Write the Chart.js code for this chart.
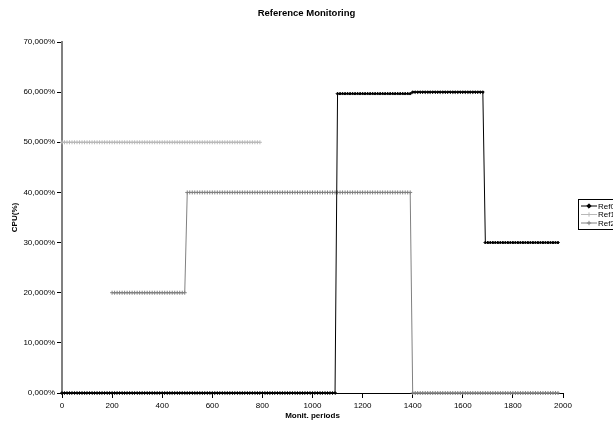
<!DOCTYPE html>
<html>
<head>
<meta charset="utf-8">
<title>Reference Monitoring</title>
<script src="https://cdn.jsdelivr.net/npm/chart.js@4/dist/chart.umd.min.js"></script>
<style>
  html, body { margin: 0; padding: 0; background: #fff; overflow: hidden; }
  #wrap { width: 613px; height: 428px; }
</style>
</head>
<body>
<div id="wrap"><canvas id="cpuChart" width="613" height="428"></canvas></div>
<script>
// Monitoring periods (x axis), one sample every 10 periods
const periods = [
    0, 10, 20, 30, 40, 50, 60, 70, 80, 90,
    100, 110, 120, 130, 140, 150, 160, 170, 180, 190,
    200, 210, 220, 230, 240, 250, 260, 270, 280, 290,
    300, 310, 320, 330, 340, 350, 360, 370, 380, 390,
    400, 410, 420, 430, 440, 450, 460, 470, 480, 490,
    500, 510, 520, 530, 540, 550, 560, 570, 580, 590,
    600, 610, 620, 630, 640, 650, 660, 670, 680, 690,
    700, 710, 720, 730, 740, 750, 760, 770, 780, 790,
    800, 810, 820, 830, 840, 850, 860, 870, 880, 890,
    900, 910, 920, 930, 940, 950, 960, 970, 980, 990,
    1000, 1010, 1020, 1030, 1040, 1050, 1060, 1070, 1080, 1090,
    1100, 1110, 1120, 1130, 1140, 1150, 1160, 1170, 1180, 1190,
    1200, 1210, 1220, 1230, 1240, 1250, 1260, 1270, 1280, 1290,
    1300, 1310, 1320, 1330, 1340, 1350, 1360, 1370, 1380, 1390,
    1400, 1410, 1420, 1430, 1440, 1450, 1460, 1470, 1480, 1490,
    1500, 1510, 1520, 1530, 1540, 1550, 1560, 1570, 1580, 1590,
    1600, 1610, 1620, 1630, 1640, 1650, 1660, 1670, 1680, 1690,
    1700, 1710, 1720, 1730, 1740, 1750, 1760, 1770, 1780, 1790,
    1800, 1810, 1820, 1830, 1840, 1850, 1860, 1870, 1880, 1890,
    1900, 1910, 1920, 1930, 1940, 1950, 1960, 1970, 1980
];

// CPU (%) per series, same order as periods
const ref0 = [
    0, 0, 0, 0, 0, 0, 0, 0, 0, 0,
    0, 0, 0, 0, 0, 0, 0, 0, 0, 0,
    0, 0, 0, 0, 0, 0, 0, 0, 0, 0,
    0, 0, 0, 0, 0, 0, 0, 0, 0, 0,
    0, 0, 0, 0, 0, 0, 0, 0, 0, 0,
    0, 0, 0, 0, 0, 0, 0, 0, 0, 0,
    0, 0, 0, 0, 0, 0, 0, 0, 0, 0,
    0, 0, 0, 0, 0, 0, 0, 0, 0, 0,
    0, 0, 0, 0, 0, 0, 0, 0, 0, 0,
    0, 0, 0, 0, 0, 0, 0, 0, 0, 0,
    0, 0, 0, 0, 0, 0, 0, 0, 0, 0,
    59.7, 59.7, 59.7, 59.7, 59.7, 59.7, 59.7, 59.7, 59.7, 59.7,
    59.7, 59.7, 59.7, 59.7, 59.7, 59.7, 59.7, 59.7, 59.7, 59.7,
    59.7, 59.7, 59.7, 59.7, 59.7, 59.7, 59.7, 59.7, 59.7, 59.7,
    60, 60, 60, 60, 60, 60, 60, 60, 60, 60,
    60, 60, 60, 60, 60, 60, 60, 60, 60, 60,
    60, 60, 60, 60, 60, 60, 60, 60, 60, 30,
    30, 30, 30, 30, 30, 30, 30, 30, 30, 30,
    30, 30, 30, 30, 30, 30, 30, 30, 30, 30,
    30, 30, 30, 30, 30, 30, 30, 30, 30
];

const ref1 = [
    50, 50, 50, 50, 50, 50, 50, 50, 50, 50,
    50, 50, 50, 50, 50, 50, 50, 50, 50, 50,
    50, 50, 50, 50, 50, 50, 50, 50, 50, 50,
    50, 50, 50, 50, 50, 50, 50, 50, 50, 50,
    50, 50, 50, 50, 50, 50, 50, 50, 50, 50,
    50, 50, 50, 50, 50, 50, 50, 50, 50, 50,
    50, 50, 50, 50, 50, 50, 50, 50, 50, 50,
    50, 50, 50, 50, 50, 50, 50, 50, 50, 50,
    null, null, null, null, null, null, null, null, null, null,
    null, null, null, null, null, null, null, null, null, null,
    null, null, null, null, null, null, null, null, null, null,
    null, null, null, null, null, null, null, null, null, null,
    null, null, null, null, null, null, null, null, null, null,
    null, null, null, null, null, null, null, null, null, null,
    null, null, null, null, null, null, null, null, null, null,
    null, null, null, null, null, null, null, null, null, null,
    null, null, null, null, null, null, null, null, null, null,
    null, null, null, null, null, null, null, null, null, null,
    null, null, null, null, null, null, null, null, null, null,
    null, null, null, null, null, null, null, null, null
];

const ref2 = [
    null, null, null, null, null, null, null, null, null, null,
    null, null, null, null, null, null, null, null, null, null,
    20, 20, 20, 20, 20, 20, 20, 20, 20, 20,
    20, 20, 20, 20, 20, 20, 20, 20, 20, 20,
    20, 20, 20, 20, 20, 20, 20, 20, 20, 20,
    40, 40, 40, 40, 40, 40, 40, 40, 40, 40,
    40, 40, 40, 40, 40, 40, 40, 40, 40, 40,
    40, 40, 40, 40, 40, 40, 40, 40, 40, 40,
    40, 40, 40, 40, 40, 40, 40, 40, 40, 40,
    40, 40, 40, 40, 40, 40, 40, 40, 40, 40,
    40, 40, 40, 40, 40, 40, 40, 40, 40, 40,
    40, 40, 40, 40, 40, 40, 40, 40, 40, 40,
    40, 40, 40, 40, 40, 40, 40, 40, 40, 40,
    40, 40, 40, 40, 40, 40, 40, 40, 40, 40,
    0, 0, 0, 0, 0, 0, 0, 0, 0, 0,
    0, 0, 0, 0, 0, 0, 0, 0, 0, 0,
    0, 0, 0, 0, 0, 0, 0, 0, 0, 0,
    0, 0, 0, 0, 0, 0, 0, 0, 0, 0,
    0, 0, 0, 0, 0, 0, 0, 0, 0, 0,
    0, 0, 0, 0, 0, 0, 0, 0, 0
];

const seriesNames = ['Ref0', 'Ref1', 'Ref2'];
const xTicks = [0, 200, 400, 600, 800, 1000, 1200, 1400, 1600, 1800, 2000];
const yTicks = [0, 10, 20, 30, 40, 50, 60, 70];

const FONT = 'Arial, "Liberation Sans", sans-serif';

function toPoints(values) {
    return periods.map((p, i) => ({ x: p, y: values[i] }));
}

// Excel style legend box on the right, partly cut by the page edge
const boxLegend = {
    id: 'boxLegend',
    afterDraw(chart) {
        const ctx = chart.ctx;
        const left = 578, top = 199, rowH = 8.5;
        ctx.save();
        ctx.strokeStyle = '#000';
        ctx.lineWidth = 1;
        ctx.strokeRect(left + 0.5, top + 0.5, 60, 30);
        ctx.font = '8px ' + FONT;
        ctx.textBaseline = 'middle';
        chart.data.datasets.forEach((ds, i) => {
            const y = top + 7 + i * rowH;
            ctx.strokeStyle = ds.borderColor;
            ctx.fillStyle = ds.pointBackgroundColor;
            ctx.lineWidth = 1;
            ctx.beginPath();
            ctx.moveTo(581, y);
            ctx.lineTo(597, y);
            ctx.stroke();
            Chart.helpers.drawPoint(ctx, {
                pointStyle: ds.pointStyle, radius: 2.2, rotation: 0, borderWidth: 1
            }, 589, y);
            ctx.fillStyle = '#000';
            ctx.fillText(ds.label, 598, y + 0.5);
        });
        ctx.restore();
    }
};

const ctx = document.getElementById('cpuChart').getContext('2d');
new Chart(ctx, {
    type: 'line',
    data: {
        datasets: [{
            label: seriesNames[0],
            data: toPoints(ref0),
            borderColor: '#000',
            pointBackgroundColor: '#000',
            pointBorderColor: '#000',
            pointStyle: 'rectRot',
            pointRadius: 1.4,
            borderWidth: 1,
            clip: 6
        }, {
            label: seriesNames[1],
            data: toPoints(ref1),
            borderColor: '#b8b8b8',
            pointBackgroundColor: '#b8b8b8',
            pointBorderColor: '#b8b8b8',
            pointStyle: 'cross',
            pointRadius: 2,
            borderWidth: 1,
            clip: 6
        }, {
            label: seriesNames[2],
            data: toPoints(ref2),
            borderColor: '#808080',
            pointBackgroundColor: '#808080',
            pointBorderColor: '#808080',
            pointStyle: 'cross',
            pointRadius: 2,
            borderWidth: 1,
            clip: 6
        }]
    },
    options: {
        responsive: false,
        animation: false,
        spanGaps: false,
        layout: { padding: 0 },
        elements: { line: { tension: 0 } },
        plugins: {
            legend: { display: false },
            tooltip: { enabled: false },
            title: {
                display: true,
                text: 'Reference Monitoring',
                color: '#000',
                font: { family: FONT, size: 9.5, weight: 'bold' },
                padding: { top: 8, bottom: 22.6 }
            }
        },
        scales: {
            x: {
                type: 'linear',
                min: 0,
                max: 2000,
                afterFit: scale => { scale.height = 35; },
                afterBuildTicks: scale => { scale.ticks = xTicks.map(v => ({ value: v })); },
                ticks: {
                    color: '#000',
                    padding: 3,
                    maxRotation: 0,
                    font: { family: FONT, size: 8 },
                    callback: v => String(v)
                },
                grid: {
                    drawOnChartArea: false,
                    drawTicks: true,
                    tickLength: 5,
                    color: '#000'
                },
                border: { color: '#000', width: 1 },
                title: {
                    display: true,
                    text: 'Monit. periods',
                    color: '#000',
                    font: { family: FONT, size: 8, weight: 'bold' },
                    padding: { top: 0, bottom: 7 }
                }
            },
            y: {
                min: 0,
                max: 70,
                afterFit: scale => { scale.width = 62; },
                afterBuildTicks: scale => { scale.ticks = yTicks.map(v => ({ value: v })); },
                ticks: {
                    color: '#000',
                    padding: 2,
                    font: { family: FONT, size: 8 },
                    callback: v => v.toFixed(3).replace('.', ',') + '%'
                },
                grid: {
                    drawOnChartArea: false,
                    drawTicks: true,
                    tickLength: 5,
                    color: '#000'
                },
                border: { color: '#808080', width: 2 },
                title: {
                    display: true,
                    text: 'CPU(%)',
                    color: '#000',
                    font: { family: FONT, size: 8, weight: 'bold' },
                    padding: { top: 10, bottom: 0 }
                }
            },
            // empty right-hand strip that leaves room for the legend box
            legendSpace: {
                type: 'linear',
                position: 'right',
                display: true,
                afterFit: scale => { scale.width = 50; },
                ticks: { display: false },
                grid: { display: false },
                border: { display: false }
            }
        }
    },
    plugins: [boxLegend]
});
</script>
</body>
</html>
